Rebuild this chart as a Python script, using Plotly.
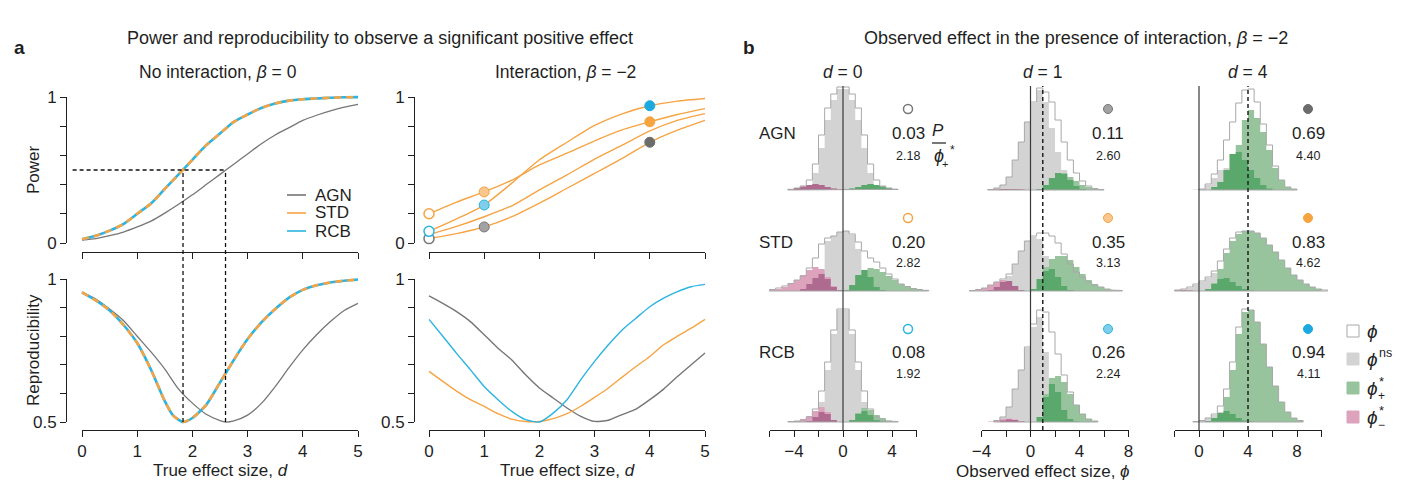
import plotly.graph_objects as go

W, H = 1402, 480
OFF = 8  # page offset of the figure inside the browser window (px)
FONT = "Liberation Sans, Arial, Helvetica, sans-serif"
INK = "#1f1f1f"

# ====================== DATA : panel a ======================
D_QUARTER = [0.0, 0.25, 0.5, 0.75, 1.0, 1.25, 1.5, 1.75, 2.0, 2.25, 2.5,
             2.75, 3.0, 3.25, 3.5, 3.75, 4.0, 4.25, 4.5, 4.75, 5.0]
D_HALF = [0.0, 0.5, 1.0, 1.5, 2.0, 2.5, 3.0, 3.5, 4.0, 4.5, 5.0]

# No interaction, beta = 0 : power
POWER_AGN = [0.02, 0.03, 0.05, 0.075, 0.11, 0.15, 0.205, 0.265, 0.33, 0.40, 0.47,
             0.54, 0.61, 0.68, 0.74, 0.79, 0.84, 0.875, 0.905, 0.93, 0.95]
POWER_STD = [0.025, 0.05, 0.085, 0.13, 0.20, 0.27, 0.37, 0.47, 0.57, 0.67, 0.75,
             0.83, 0.88, 0.925, 0.955, 0.975, 0.985, 0.99, 0.995, 0.998, 0.999]
POWER_RCB = [0.025, 0.05, 0.085, 0.13, 0.20, 0.27, 0.37, 0.47, 0.57, 0.67, 0.75,
             0.83, 0.88, 0.925, 0.955, 0.975, 0.985, 0.99, 0.995, 0.998, 0.999]

# No interaction : reproducibility
D_REP_AGN = [0.0, 0.25, 0.5, 0.75, 1.0, 1.25, 1.5, 1.75, 2.0, 2.25, 2.5, 2.6,
             2.75, 3.0, 3.25, 3.5, 3.75, 4.0, 4.25, 4.5, 4.75, 5.0]
REP_AGN = [0.953, 0.93, 0.895, 0.855, 0.80, 0.745, 0.685, 0.615, 0.566, 0.527, 0.505, 0.50,
           0.504, 0.524, 0.565, 0.624, 0.69, 0.752, 0.805, 0.851, 0.89, 0.915]
D_REP_STD = [0.0, 0.25, 0.5, 0.75, 1.0, 1.25, 1.5, 1.65, 1.83, 2.0, 2.25, 2.5,
             2.75, 3.0, 3.25, 3.5, 3.75, 4.0, 4.25, 4.5, 4.75, 5.0]
REP_STD = [0.953, 0.925, 0.89, 0.84, 0.776, 0.683, 0.573, 0.523, 0.50, 0.514, 0.56, 0.638,
           0.717, 0.79, 0.848, 0.895, 0.935, 0.962, 0.978, 0.988, 0.994, 0.998]
REP_RCB = [0.953, 0.925, 0.89, 0.84, 0.776, 0.683, 0.573, 0.523, 0.50, 0.514, 0.56, 0.638,
           0.717, 0.79, 0.848, 0.895, 0.935, 0.962, 0.978, 0.988, 0.994, 0.998]

D50_STD = 1.83   # d at which power = 0.5 (STD / RCB)
D50_AGN = 2.60   # d at which power = 0.5 (AGN)

# Interaction, beta = -2 : power (all curves drawn orange in the original)
POWER_INT_AGN = [0.03, 0.064, 0.11, 0.18, 0.273, 0.375, 0.477, 0.58, 0.69, 0.773, 0.84]
POWER_INT_STD = [0.20, 0.28, 0.35, 0.43, 0.535, 0.615, 0.70, 0.775, 0.83, 0.88, 0.92]
POWER_INT_RCB = [0.08, 0.165, 0.26, 0.41, 0.57, 0.69, 0.805, 0.885, 0.94, 0.972, 0.99]
POWER_INT_OTHER = [0.057, 0.114, 0.18, 0.255, 0.364, 0.466, 0.575, 0.67, 0.768, 0.84, 0.886]

# Interaction : reproducibility
REP_INT_AGN = [0.941, 0.915, 0.886, 0.851, 0.805, 0.758, 0.717, 0.665, 0.619, 0.584, 0.549,
               0.52, 0.502, 0.506, 0.526, 0.545, 0.578, 0.615, 0.659, 0.70, 0.741]
REP_INT_STD = [0.677, 0.642, 0.608, 0.578, 0.555, 0.529, 0.51, 0.502, 0.502, 0.512, 0.529,
               0.555, 0.586, 0.619, 0.657, 0.694, 0.729, 0.77, 0.80, 0.828, 0.859]
REP_INT_RCB = [0.859, 0.80, 0.74, 0.683, 0.624, 0.578, 0.537, 0.508, 0.50, 0.531, 0.578,
               0.648, 0.712, 0.77, 0.822, 0.863, 0.903, 0.933, 0.956, 0.973, 0.981]

# ====================== DATA : panel b ======================
METHODS = ["AGN", "STD", "RCB"]
D_SHOWN = [0, 1, 4]
P_AGN = [0.03, 0.11, 0.69]
P_STD = [0.20, 0.35, 0.83]
P_RCB = [0.08, 0.26, 0.94]
MEAN_POS_AGN = [2.18, 2.60, 4.40]
MEAN_POS_STD = [2.82, 3.13, 4.62]
MEAN_POS_RCB = [1.92, 2.24, 4.11]

BIN_WIDTH = 0.5
# each histogram: (centre of first bin, frequencies per bin)
AGN_D0_ALL = (-4.25, [0.7, 2, 4, 10, 26, 55, 82, 96, 103, 103, 96, 82, 55, 26, 10, 4, 2, 0.7])
AGN_D0_NS = (-3.75, [0.5, 1.5, 5, 17, 42, 70, 90, 101, 101, 90, 70, 42, 17, 5, 1.5, 0.5])
AGN_D0_POS_A = (0.25, [0.5, 1.5, 3, 5, 6, 5, 3.5, 2, 0.7])
AGN_D0_POS_B = (0.25, [0.5, 1.5, 3, 5, 6, 5, 3.5, 2, 0.7])
AGN_D0_NEG_A = (-4.25, [0.7, 2, 3.5, 5, 6, 5, 3, 1.5, 0.5])
AGN_D0_NEG_B = (-4.25, [0.7, 2, 3.5, 5, 6, 5, 3, 1.5, 0.5])

STD_D0_ALL = (-5.75, [1.5, 3, 5, 7.5, 11, 15, 23, 33, 47, 53, 55, 59, 60, 57, 49, 40, 33, 29,
                      23, 17, 12, 7, 4.5, 2.5, 1.5, 0.7])
STD_D0_NS = (-2.25, [3, 20, 50, 55, 59, 60, 56, 42, 10, 2])
STD_D0_POS_A = (0.25, [1, 5, 15, 21, 23, 22, 19, 15, 11, 7, 4, 2.5, 1.5, 0.7])
STD_D0_POS_B = (0.25, [1, 6, 16, 21, 14, 4, 1])
STD_D0_NEG_A = (-5.75, [1, 2, 4, 7, 11, 16, 21, 24, 22, 14, 5, 1])
STD_D0_NEG_B = (-3.25, [2, 7, 13, 17, 12, 4, 1])

RCB_D0_ALL = (-4.25, [0.5, 1, 2, 5, 13, 31, 60, 92, 113, 113, 92, 60, 31, 13, 5, 2, 1, 0.5])
RCB_D0_NS = (-2.75, [1, 5, 20, 52, 88, 112, 112, 88, 52, 20, 5, 1])
RCB_D0_POS_A = (0.75, [2, 9, 14, 12, 7, 4, 1.5])
RCB_D0_POS_B = (0.75, [2, 8, 11, 7, 2, 0.5])
RCB_D0_NEG_A = (-4.25, [0.5, 1, 3, 6, 11, 15, 10, 2])
RCB_D0_NEG_B = (-2.75, [1, 5, 10, 8, 2])

AGN_D1_ALL = (-3.25, [0.5, 2, 5, 13, 30, 48, 68, 88, 102, 98, 88, 70, 48, 30, 17, 9, 4, 1.5, 0.5])
AGN_D1_NS = (-3.25, [0.5, 2, 5, 13, 30, 48, 68, 87, 100, 88, 62, 38, 20, 8, 3, 1])
AGN_D1_POS_A = (0.75, [1, 5, 12, 17, 17, 13, 9, 5, 3, 1.5, 0.5])
AGN_D1_POS_B = (0.75, [1, 5, 12, 17, 16, 10, 4, 1])
AGN_D1_NEG_A = (-3.25, [0.3, 0.6, 1, 1, 1, 0.5])
AGN_D1_NEG_B = (-3.25, [0.3, 0.6, 1, 1, 1, 0.5])

STD_D1_ALL = (-4.75, [0.5, 1.5, 3, 6, 9, 12, 17, 27, 40, 50, 55, 58, 58, 55, 48, 37, 27, 19,
                      14, 9, 6, 4, 2, 1, 0.5])
STD_D1_NS = (-2.25, [3, 15, 27, 40, 50, 54, 52, 35, 10, 2])
STD_D1_POS_A = (0.25, [2, 12, 24, 32, 35, 35, 31, 24, 17, 11, 7, 4, 2, 1, 0.5])
STD_D1_POS_B = (0.25, [2, 12, 20, 22, 14, 5, 1])
STD_D1_NEG_A = (-4.75, [0.5, 1.5, 3, 6, 9, 11, 9, 4, 1])
STD_D1_NEG_B = (-3.25, [1, 4, 9, 10, 5, 1])

RCB_D1_ALL = (-2.75, [1.5, 5, 15, 33, 52, 75, 98, 112, 110, 90, 68, 47, 30, 17, 8, 3, 1])
RCB_D1_NS = (-2.75, [1.5, 5, 15, 33, 52, 74, 95, 105, 70, 30, 8, 2])
RCB_D1_POS_A = (0.75, [5, 28, 44, 46, 40, 28, 17, 8, 3, 1])
RCB_D1_POS_B = (0.75, [5, 25, 38, 30, 12, 3, 0.5])
RCB_D1_NEG_A = (-3.25, [0.5, 1.5, 3, 3.5, 2.5, 1])
RCB_D1_NEG_B = (-2.25, [1.5, 2.5, 2, 0.5])

AGN_D4_ALL = (0.25, [1, 6, 16, 30, 50, 68, 87, 100, 101, 88, 66, 45, 24, 10, 3, 1])
AGN_D4_NS = (-0.25, [0.5, 1, 5, 12, 20, 22, 18, 10, 4, 1])
AGN_D4_POS_A = (1.25, [3, 8, 20, 36, 45, 70, 80, 72, 58, 40, 22, 10, 3, 1])
AGN_D4_POS_B = (1.25, [3, 8, 20, 36, 38, 30, 20, 12, 5, 1.5])
AGN_D4_NEG_A = (-0.25, [])
AGN_D4_NEG_B = (-0.25, [])

STD_D4_ALL = (-1.75, [1, 2, 4, 7, 10, 14, 20, 30, 42, 53, 59, 60, 60, 58, 53, 46, 39, 31,
                      23, 16, 11, 7, 4, 2, 1])
STD_D4_NS = (-1.75, [0.5, 1.5, 3, 6, 9, 13, 18, 20, 15, 6, 2])
STD_D4_POS_A = (0.75, [2, 8, 22, 38, 50, 57, 60, 60, 58, 53, 46, 39, 31, 23, 16, 11, 7, 4, 2])
STD_D4_POS_B = (0.75, [2, 7, 12, 13, 9, 5, 2, 0.5])
STD_D4_NEG_A = (-1.75, [0.5, 0.7, 0.5])
STD_D4_NEG_B = (-1.75, [0.5, 0.7, 0.5])

RCB_D4_ALL = (-0.25, [0.5, 1.5, 4, 8, 16, 33, 60, 95, 113, 112, 100, 78, 55, 36, 20, 10, 4, 1.5])
RCB_D4_NS = (0.25, [1.5, 4, 7, 10, 8, 3, 1])
RCB_D4_POS_A = (0.75, [1, 4, 9, 25, 52, 88, 110, 112, 100, 78, 55, 36, 20, 10, 4, 1.5])
RCB_D4_POS_B = (0.75, [1, 4, 9, 11, 8, 4, 1.5, 0.5])
RCB_D4_NEG_A = (0.25, [])
RCB_D4_NEG_B = (0.25, [])

# ====================== STYLE ======================
C_AGN = "#767676"
C_STD = "#F6A443"
C_RCB = "#2BB4E0"
TINT = {"AGN": "#A2A2A2", "STD": "#F9C78E", "RCB": "#7FCFEC"}
SOLID = {"AGN": "#6B6B6B", "STD": "#F6A43E", "RCB": "#1CA9E0"}
LINEC = {"AGN": C_AGN, "STD": C_STD, "RCB": C_RCB}
C_NS = "#D3D3D3"
C_OUT = "#A8A8A8"
C_POS_A = "#97C49C"
C_POS_B = "#5BA86C"
C_NEG_A = "#DDA3BC"
C_NEG_B = "#AE6B8F"


def fx(p):
    """window pixel x -> paper fraction"""
    return (p - OFF) / W


def fy(p):
    """window pixel y -> paper fraction"""
    return 1 - (p - OFF) / H


fig = go.Figure()
layout_axes = {}
counter = {"n": 0}
BASE_AX = dict(showgrid=False, zeroline=False, fixedrange=True, visible=False,
               automargin=False)
annotations = []
shapes = []


def add_axes(xdom, ydom, xr, yr, xstyle=None, ystyle=None):
    counter["n"] += 1
    n = counter["n"]
    s = "" if n == 1 else str(n)
    xa = dict(BASE_AX, domain=[fx(xdom[0]), fx(xdom[1])], range=list(xr), anchor="y" + s)
    ya = dict(BASE_AX, domain=[fy(ydom[1]), fy(ydom[0])], range=list(yr), anchor="x" + s)
    if xstyle:
        xa.update(xstyle)
    if ystyle:
        ya.update(ystyle)
    layout_axes["xaxis" + s] = xa
    layout_axes["yaxis" + s] = ya
    fig.add_trace(go.Scatter(x=[], y=[], xaxis="x" + s, yaxis="y" + s,
                             showlegend=False, hoverinfo="skip"))
    return "x" + s, "y" + s


def vis_axis(tickvals, ticktext, labels=True):
    return dict(visible=True, showline=True, linecolor=INK, linewidth=1, ticks="outside",
                ticklen=6, tickwidth=1, tickcolor=INK, tickmode="array", tickvals=tickvals,
                ticktext=ticktext, showticklabels=labels,
                tickfont=dict(family=FONT, size=17, color=INK))


def ann(text, x, y, size=17, xanchor="center", yanchor="middle", **kw):
    annotations.append(dict(text=text, x=fx(x), y=fy(y), xref="paper", yref="paper",
                            showarrow=False, xanchor=xanchor, yanchor=yanchor,
                            font=dict(family=FONT, size=size, color=kw.pop("color", INK)), **kw))


# ---------------------- panel a geometry ----------------------
def data_axes_a(x_px0, x_px5, y_px_lo, y_px_hi, v_lo, v_hi):
    kx = (x_px5 - x_px0) / 5.0
    xr = (-0.3, 5.3)
    xdom = (x_px0 + xr[0] * kx, x_px0 + xr[1] * kx)
    ky = (y_px_hi - y_px_lo) / (v_hi - v_lo)
    pad = 0.06 * (v_hi - v_lo)
    yr = (v_lo - pad, v_hi + pad)
    ytop = y_px_lo + (yr[1] - v_lo) * ky
    ybot = y_px_lo + (yr[0] - v_lo) * ky
    return add_axes(xdom, (ytop, ybot), xr, yr)


TL = data_axes_a(82, 358, 243, 97, 0, 1)
BL = data_axes_a(82, 358, 422, 279, 0.5, 1)
TR = data_axes_a(429, 705, 243, 97, 0, 1)
BR = data_axes_a(429, 705, 422, 279, 0.5, 1)

XT = [0, 1, 2, 3, 4, 5]
for x0, x5, ay, lab in [(82, 358, 252, False), (82, 358, 430, True),
                        (429, 705, 252, False), (429, 705, 430, True)]:
    add_axes((x0, x5), (ay - 1, ay), (0, 5), (0, 1),
             xstyle=vis_axis(XT, [str(v) for v in XT], lab))
for axx in (67, 415):
    add_axes((axx, axx + 1), (97, 243), (0, 1), (0, 1),
             ystyle=vis_axis([0, 0.2, 0.4, 0.6, 0.8, 1], ["0", "", "", "", "", "1"]))
    add_axes((axx, axx + 1), (279, 422), (0, 1), (0.5, 1),
             ystyle=vis_axis([0.5, 0.6, 0.7, 0.8, 0.9, 1], ["0.5", "", "", "", "", "1"]))


def line(ax, x, y, color, width=1.4, dash=None):
    fig.add_trace(go.Scatter(x=x, y=y, mode="lines", xaxis=ax[0], yaxis=ax[1],
                             line=dict(color=color, width=width, dash=dash, shape="spline",
                                       smoothing=0.6),
                             showlegend=False, hoverinfo="skip"))


# top-left: power, no interaction
line(TL, D_QUARTER, POWER_AGN, C_AGN, 1.3)
line(TL, D_QUARTER, POWER_RCB, C_RCB, 2.6)
line(TL, D_QUARTER, POWER_STD, C_STD, 2.6, "7px,5px")
# bottom-left: reproducibility
line(BL, D_REP_AGN, REP_AGN, C_AGN, 1.3)
line(BL, D_REP_STD, REP_RCB, C_RCB, 2.6)
line(BL, D_REP_STD, REP_STD, C_STD, 2.6, "7px,5px")
# top-right: power with interaction
for series in (POWER_INT_AGN, POWER_INT_OTHER, POWER_INT_RCB, POWER_INT_STD):
    line(TR, D_HALF, series, C_STD, 1.4)
# bottom-right
line(BR, D_QUARTER, REP_INT_AGN, C_AGN, 1.4)
line(BR, D_QUARTER, REP_INT_STD, C_STD, 1.4)
line(BR, D_QUARTER, REP_INT_RCB, C_RCB, 1.4)

P_BY = {"AGN": P_AGN, "STD": P_STD, "RCB": P_RCB}
MEAN_BY = {"AGN": MEAN_POS_AGN, "STD": MEAN_POS_STD, "RCB": MEAN_POS_RCB}


def marker_style(m, k, size):
    if k == 0:
        return dict(size=size, color="white", line=dict(color=LINEC[m], width=1.5))
    if k == 1:
        return dict(size=size, color=TINT[m], line=dict(color=LINEC[m], width=1))
    return dict(size=size, color=SOLID[m], line=dict(color=SOLID[m], width=1))


for m in METHODS:
    for k, d in enumerate(D_SHOWN):
        fig.add_trace(go.Scatter(x=[d], y=[P_BY[m][k]], mode="markers", xaxis=TR[0],
                                 yaxis=TR[1], marker=marker_style(m, k, 10), cliponaxis=False,
                                 showlegend=False, hoverinfo="skip"))

# dashed guide lines
shapes.append(dict(type="line", xref=TL[0], yref=TL[1], x0=-0.17, x1=D50_AGN, y0=0.5, y1=0.5,
                   line=dict(color="#111", width=1.3, dash="4px,3px")))
y_top_p = fy(243 - 0.5 * 146)
y_bot_p = fy(422)
for dv in (D50_STD, D50_AGN):
    shapes.append(dict(type="line", xref=TL[0], yref="paper", x0=dv, x1=dv, y0=y_bot_p,
                       y1=y_top_p, line=dict(color="#111", width=1.3, dash="4px,3px")))

# legend panel a
for i, (m, c) in enumerate([("AGN", C_AGN), ("STD", C_STD), ("RCB", C_RCB)]):
    yy = 195 + i * 18
    shapes.append(dict(type="line", xref="paper", yref="paper", x0=fx(287), x1=fx(306),
                       y0=fy(yy), y1=fy(yy), line=dict(color=c, width=1.6)))
    ann(m, 313, yy, 17, xanchor="left")

# texts panel a
ann("<b>a</b>", 12, 47, 19, xanchor="left")
ann("Power and reproducibility to observe a significant positive effect", 380, 38, 18)
ann("No interaction, <i>β</i> = 0", 218, 72, 17.5)
ann("Interaction, <i>β</i> = −2", 565, 72, 17.5)
ann("Power", 33, 170, 17, textangle=-90)
ann("Reproducibility", 33, 350, 17, textangle=-90)
ann("True effect size, <i>d</i>", 220, 470, 17)
ann("True effect size, <i>d</i>", 567, 470, 17)

# ---------------------- panel b ----------------------
SCALE_B = 12.25
COL_ZERO_PX = [843, 1030.5, 1199]
COL_RANGE = [(-8, 8), (-6, 10), (-4, 12)]
AXIS_RANGE = [(-6, 6), (-4, 8), (-2, 10)]
AXIS_LABELS = [["", "−4", "", "0", "", "4", ""],
               ["−4", "", "0", "", "4", "", "8"],
               ["", "0", "", "4", "", "8", ""]]
ROW_BASE_PX = [190, 291, 422]
ROW_MARK_Y = [109, 218, 329]
ROW_NUM_Y = [133, 242, 352]
ROW_SMALL_Y = [156, 263, 374]
COL_TEXT_X = [908, 1108, 1308]

HISTS = {
    ("AGN", 0): (AGN_D0_ALL, AGN_D0_NS, AGN_D0_POS_A, AGN_D0_POS_B, AGN_D0_NEG_A, AGN_D0_NEG_B),
    ("STD", 0): (STD_D0_ALL, STD_D0_NS, STD_D0_POS_A, STD_D0_POS_B, STD_D0_NEG_A, STD_D0_NEG_B),
    ("RCB", 0): (RCB_D0_ALL, RCB_D0_NS, RCB_D0_POS_A, RCB_D0_POS_B, RCB_D0_NEG_A, RCB_D0_NEG_B),
    ("AGN", 1): (AGN_D1_ALL, AGN_D1_NS, AGN_D1_POS_A, AGN_D1_POS_B, AGN_D1_NEG_A, AGN_D1_NEG_B),
    ("STD", 1): (STD_D1_ALL, STD_D1_NS, STD_D1_POS_A, STD_D1_POS_B, STD_D1_NEG_A, STD_D1_NEG_B),
    ("RCB", 1): (RCB_D1_ALL, RCB_D1_NS, RCB_D1_POS_A, RCB_D1_POS_B, RCB_D1_NEG_A, RCB_D1_NEG_B),
    ("AGN", 2): (AGN_D4_ALL, AGN_D4_NS, AGN_D4_POS_A, AGN_D4_POS_B, AGN_D4_NEG_A, AGN_D4_NEG_B),
    ("STD", 2): (STD_D4_ALL, STD_D4_NS, STD_D4_POS_A, STD_D4_POS_B, STD_D4_NEG_A, STD_D4_NEG_B),
    ("RCB", 2): (RCB_D4_ALL, RCB_D4_NS, RCB_D4_POS_A, RCB_D4_POS_B, RCB_D4_NEG_A, RCB_D4_NEG_B),
}


def step_path(hist, base, close=False):
    start, heights = hist
    left = start - BIN_WIDTH / 2
    xs, ys = [left], [base]
    for i, h in enumerate(heights):
        xs += [left + i * BIN_WIDTH, left + (i + 1) * BIN_WIDTH]
        ys += [base + h, base + h]
    xs.append(left + len(heights) * BIN_WIDTH)
    ys.append(base)
    if close:
        xs.append(left)
        ys.append(base)
    return xs, ys


for c, d in enumerate(D_SHOWN):
    z = COL_ZERO_PX[c]
    lo, hi = COL_RANGE[c]
    ax = add_axes((z + lo * SCALE_B, z + hi * SCALE_B), (80, 435), (lo, hi), (45, 400))
    a0, a1 = AXIS_RANGE[c]
    ticks = list(range(a0, a1 + 1, 2))
    add_axes((z + a0 * SCALE_B, z + a1 * SCALE_B), (429, 430), (a0, a1), (0, 1),
             xstyle=vis_axis(ticks, AXIS_LABELS[c]))
    for r, m in enumerate(METHODS):
        base = H - ROW_BASE_PX[r]
        h_all, h_ns, h_pa, h_pb, h_na, h_nb = HISTS[(m, c)]
        for hist, col in ((h_ns, C_NS), (h_na, C_NEG_A), (h_nb, C_NEG_B),
                          (h_pa, C_POS_A), (h_pb, C_POS_B)):
            if not hist[1]:
                continue
            xs, ys = step_path(hist, base)
            fig.add_trace(go.Scatter(x=xs, y=ys, mode="lines", fill="toself", fillcolor=col,
                                     line=dict(width=0, color=col), xaxis=ax[0], yaxis=ax[1],
                                     showlegend=False, hoverinfo="skip"))
        xs, ys = step_path(h_all, base, close=True)
        fig.add_trace(go.Scatter(x=xs, y=ys, mode="lines", line=dict(width=1, color=C_OUT),
                                 xaxis=ax[0], yaxis=ax[1], showlegend=False, hoverinfo="skip"))
        # P marker
        fig.add_trace(go.Scatter(x=[(COL_TEXT_X[c] - z) / SCALE_B], y=[H - ROW_MARK_Y[r]],
                                 mode="markers", marker=marker_style(m, c, 9),
                                 xaxis=ax[0], yaxis=ax[1], cliponaxis=False,
                                 showlegend=False, hoverinfo="skip"))
        ann(f"{P_BY[m][c]:.2f}", COL_TEXT_X[c], ROW_NUM_Y[r], 17)
        ann(f"{MEAN_BY[m][c]:.2f}", COL_TEXT_X[c], ROW_SMALL_Y[r], 12.5)
    # reference lines
    shapes.append(dict(type="line", xref=ax[0], yref=ax[1], x0=0, x1=0, y0=H - 430, y1=H - 86,
                       line=dict(color="#3a3a3a", width=1.2)))
    if d != 0:
        shapes.append(dict(type="line", xref=ax[0], yref=ax[1], x0=d, x1=d, y0=H - 430,
                           y1=H - 86, line=dict(color="#222", width=1.5, dash="4px,3px")))
    annotations.append(dict(text=f"<i>d</i> = {d}", x=d, xref=ax[0], y=fy(72),
                            yref="paper", showarrow=False, xanchor="center", yanchor="middle",
                            font=dict(family=FONT, size=17.5, color=INK)))

for r, m in enumerate(METHODS):
    ann(m, 757, ROW_NUM_Y[r], 17, xanchor="left")

ann("<b>b</b>", 741, 47, 19, xanchor="left")
ann("Observed effect in the presence of interaction, <i>β</i> = −2", 1076, 38, 18)
ann("Observed effect size, <i>ϕ</i>", 1043, 471, 17)

# fraction P / phi+*
ann("<i>P</i>", 938, 130, 17)
shapes.append(dict(type="line", xref="paper", yref="paper", x0=fx(932), x1=fx(946),
                   y0=fy(143), y1=fy(143), line=dict(color=INK, width=1.2)))
ann("<i>ϕ</i>", 932, 156, 18, xanchor="left")
ann("+", 945, 164, 11, xanchor="center")
ann("*", 952, 150, 12, xanchor="center")

# legend panel b
LEG_Y = [331, 359, 388, 417]
LEG_FILL = ["white", C_NS, C_POS_A, C_NEG_A]
LEG_LINE = [C_OUT, C_NS, C_POS_A, C_NEG_A]
for yy, fc, lc in zip(LEG_Y, LEG_FILL, LEG_LINE):
    shapes.append(dict(type="rect", xref="paper", yref="paper", x0=fx(1347), x1=fx(1359),
                       y0=fy(yy + 6), y1=fy(yy - 6), fillcolor=fc,
                       line=dict(color=lc, width=1)))
ann("<i>ϕ</i>", 1365, LEG_Y[0], 19, xanchor="left")
ann("<i>ϕ</i>", 1365, LEG_Y[1], 19, xanchor="left")
ann("ns", 1377, LEG_Y[1] - 6, 12.5, xanchor="left")
ann("<i>ϕ</i>", 1365, LEG_Y[2], 19, xanchor="left")
ann("*", 1377, LEG_Y[2] - 7, 13, xanchor="left")
ann("+", 1376, LEG_Y[2] + 8, 12, xanchor="left")
ann("<i>ϕ</i>", 1365, LEG_Y[3], 19, xanchor="left")
ann("*", 1377, LEG_Y[3] - 7, 13, xanchor="left")
ann("−", 1376, LEG_Y[3] + 8, 12, xanchor="left")

fig.update_layout(width=W, height=H,
                  margin=dict(l=0, r=0, t=0, b=0, pad=0, autoexpand=False),
                  paper_bgcolor="white", plot_bgcolor="rgba(0,0,0,0)", showlegend=False,
                  annotations=annotations, shapes=shapes, **layout_axes)
fig.write_html("out.html")
